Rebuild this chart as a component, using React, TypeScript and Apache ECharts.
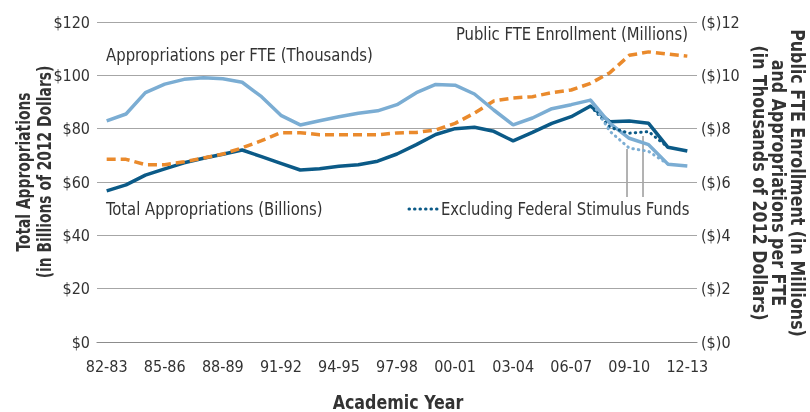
import React, { useEffect, useRef } from "react";
import * as echarts from "echarts";

const years = [
  "82-83", "83-84", "84-85", "85-86", "86-87", "87-88", "88-89", "89-90", "90-91", "91-92",
  "92-93", "93-94", "94-95", "95-96", "96-97", "97-98", "98-99", "99-00", "00-01", "01-02",
  "02-03", "03-04", "04-05", "05-06", "06-07", "07-08", "08-09", "09-10", "10-11", "11-12", "12-13",
];

// Total appropriations, billions of 2012 dollars (left axis)
const totalAppropriations = [
  56.7, 58.9, 62.6, 64.9, 67.2, 68.9, 70.4, 72.0, 69.5, 67.0,
  64.5, 65.0, 65.9, 66.5, 67.8, 70.5, 74.0, 77.8, 80.0, 80.5,
  79.0, 75.4, 78.6, 82.0, 84.5, 88.5, 82.6, 82.9, 82.0, 73.0, 71.6,
];

// Excluding federal stimulus funds (left axis)
const totalExclStimulus = [
  null, null, null, null, null, null, null, null, null, null,
  null, null, null, null, null, null, null, null, null, null,
  null, null, null, null, null, 88.5, 80.5, 78.3, 78.9, 73.0, null,
];

// Appropriations per FTE, thousands of 2012 dollars (right axis)
const perFTE = [
  8.29, 8.55, 9.35, 9.67, 9.85, 9.91, 9.87, 9.74, 9.2, 8.5,
  8.14, 8.3, 8.45, 8.58, 8.67, 8.9, 9.35, 9.66, 9.63, 9.3,
  8.7, 8.14, 8.4, 8.75, 8.9, 9.07, 8.2, 7.64, 7.4, 6.67, 6.6,
];

// Per FTE excluding federal stimulus funds (right axis)
const perFTEExclStimulus = [
  null, null, null, null, null, null, null, null, null, null,
  null, null, null, null, null, null, null, null, null, null,
  null, null, null, null, null, 9.07, 7.9, 7.27, 7.15, 6.67, null,
];

// Public FTE enrollment, millions (right axis)
const enrollment = [
  6.85, 6.85, 6.65, 6.65, 6.76, 6.9, 7.05, 7.28, 7.55, 7.85,
  7.85, 7.77, 7.77, 7.77, 7.77, 7.84, 7.86, 7.95, 8.2, 8.58,
  9.04, 9.15, 9.2, 9.35, 9.45, 9.7, 10.1, 10.75, 10.88, 10.8, 10.72,
];

const leftTicks = { min: 0, max: 120, interval: 20 };
const rightTicks = { min: 0, max: 12, interval: 2 };

const FONT = "'Liberation Sans Narrow', 'DejaVu Sans Condensed', 'Arial Narrow', 'Liberation Sans', sans-serif";
const DARK = "#0b5a87";
const LIGHT = "#7badd3";
const ORANGE = "#ea8a2c";
const TEXT = "#333333";
const GRID = "#a6a6a6";

export default function App() {
  const ref = useRef<HTMLDivElement>(null);
  useEffect(() => {
    if (!ref.current) return;
    const chart = echarts.init(ref.current, null, { renderer: "svg" });
    const label = (text: string, x: number, y: number, align: string = "left", sx: number = 0.915) => ({
      type: "text", x, y, scaleX: sx,
      style: { text, fill: TEXT, font: `18px ${FONT}`, textAlign: align, textVerticalAlign: "middle" },
    });
    chart.setOption({
      animation: false,
      grid: { left: 97, right: 113, top: 22, bottom: 70 },
      xAxis: {
        type: "category",
        data: years,
        boundaryGap: true,
        axisLine: { lineStyle: { color: "#8c8c8c", width: 1.2 } },
        axisTick: { alignWithLabel: true, interval: 0, length: 6, lineStyle: { color: "#8c8c8c" } },
        axisLabel: { interval: 2, color: TEXT, fontFamily: FONT, fontSize: 16, margin: 16 },
      },
      yAxis: [
        {
          type: "value",
          ...leftTicks,
          position: "left",
          axisLine: { show: false },
          axisTick: { show: false },
          splitLine: { lineStyle: { color: GRID, width: 1 } },
          axisLabel: { color: TEXT, fontFamily: FONT, fontSize: 16, margin: 7, formatter: (v: number) => "$" + v },
        },
        {
          type: "value",
          ...rightTicks,
          position: "right",
          axisLine: { show: false },
          axisTick: { show: false },
          splitLine: { show: false },
          axisLabel: { color: TEXT, fontFamily: FONT, fontSize: 16, margin: 4, formatter: (v: number) => "($)" + v },
        },
      ],
      series: [
        {
          type: "line", name: "Total Appropriations", yAxisIndex: 0, data: totalAppropriations,
          showSymbol: false, lineStyle: { color: DARK, width: 3.5 }, z: 2,
        },
        {
          type: "line", name: "Public FTE Enrollment", yAxisIndex: 1, data: enrollment,
          showSymbol: false, lineStyle: { color: ORANGE, width: 3.5, type: [9, 5] }, z: 3,
        },
        {
          type: "line", name: "Appropriations per FTE", yAxisIndex: 1, data: perFTE,
          showSymbol: false, lineStyle: { color: LIGHT, width: 3.5 }, z: 4,
        },
        {
          type: "line", name: "Total excl. stimulus", yAxisIndex: 0, data: totalExclStimulus,
          showSymbol: false, lineStyle: { color: DARK, width: 3, type: [0.5, 5], cap: "round" }, z: 5,
        },
        {
          type: "line", name: "Per FTE excl. stimulus", yAxisIndex: 1, data: perFTEExclStimulus,
          showSymbol: false, lineStyle: { color: LIGHT, width: 3, type: [0.5, 5], cap: "round" }, z: 5,
        },
      ],
      graphic: [
        label("Appropriations per FTE (Thousands)", 106, 55, "left", 0.92),
        label("Public FTE Enrollment (Millions)", 688, 34, "right"),
        label("Total Appropriations (Billions)", 106, 209),
        { type: "line", shape: { x1: 409, y1: 209, x2: 437, y2: 209 }, style: { stroke: DARK, lineWidth: 3, lineDash: [0.5, 5], lineCap: "round" } },
        label("Excluding Federal Stimulus Funds", 441, 209),
        { type: "line", shape: { x1: 627, y1: 149, x2: 627, y2: 197 }, style: { stroke: "#666", lineWidth: 1 } },
        { type: "line", shape: { x1: 643, y1: 136, x2: 643, y2: 197 }, style: { stroke: "#666", lineWidth: 1 } },
        {
          type: "text", x: 33, y: 172, rotation: Math.PI / 2, scaleX: 0.77,
          style: { text: "Total Appropriations\n(in Billions of 2012 Dollars)", fill: TEXT, font: `bold 20px ${FONT}`, textAlign: "center", textVerticalAlign: "middle", lineHeight: 21 },
        },
        {
          type: "text", x: 779, y: 183, rotation: -Math.PI / 2, scaleX: 0.93,
          style: { text: "Public FTE Enrollment (in Millions)\nand Appropriations per FTE\n(in Thousands of 2012 Dollars)", fill: TEXT, font: `bold 19px ${FONT}`, textAlign: "center", textVerticalAlign: "middle", lineHeight: 19 },
        },
        {
          type: "text", x: 398, y: 402, scaleX: 0.93,
          style: { text: "Academic Year", fill: TEXT, font: `bold 19px ${FONT}`, textAlign: "center", textVerticalAlign: "middle" },
        },
      ],
    });
    return () => chart.dispose();
  }, []);
  return <div ref={ref} style={{ position: "fixed", left: 0, top: 0, width: 810, height: 412 }} />;
}
